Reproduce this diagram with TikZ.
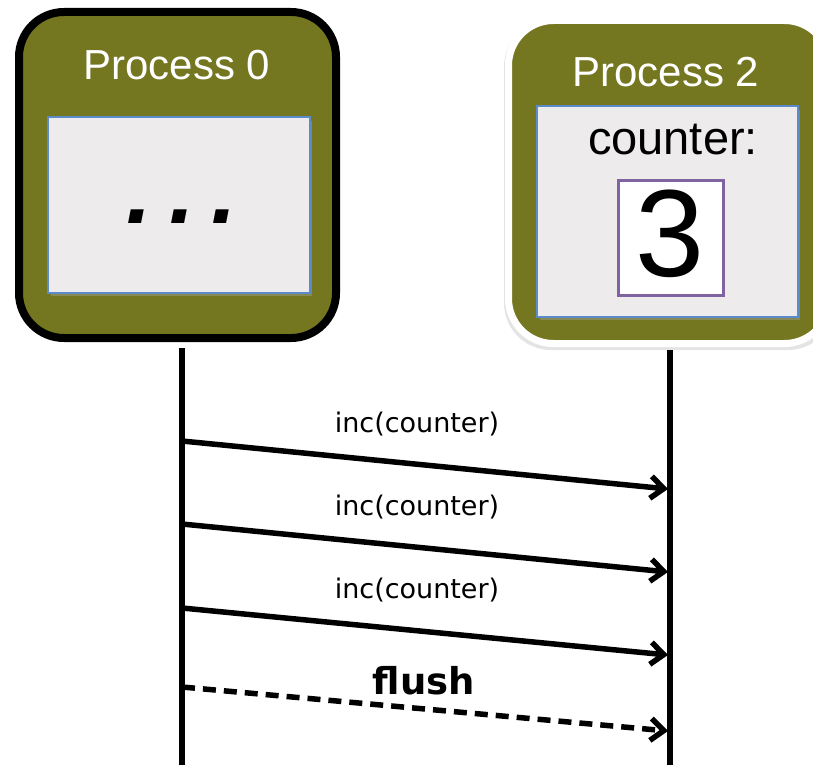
\documentclass[tikz,border=0pt]{standalone}
\usepackage{fontspec}
\setmainfont{Liberation Sans}
\newfontfamily\dejavu{DejaVu Sans}
\usetikzlibrary{arrows.meta}
\definecolor{olive}{RGB}{116,118,32}
\definecolor{innergray}{RGB}{237,235,236}
\definecolor{innerblue}{RGB}{91,139,201}
\definecolor{boxpurple}{RGB}{128,100,162}
\tikzset{
  procbox/.style={rectangle, rounded corners=45pt, fill=olive, inner sep=0pt},
  innerbox/.style={rectangle, fill=innergray, draw=innerblue, line width=1.3pt, inner sep=0pt},
  title/.style={text=white, font=\fontsize{42}{42}\selectfont, inner sep=0pt},
  lifeline/.style={line width=5.5pt},
  msg/.style={line width=5.5pt, -{Straight Barb[length=13pt,width=22pt]}},
  lbl/.style={font=\dejavu\fontsize{27}{27}\selectfont, inner sep=0pt},
}
\begin{document}
\begin{tikzpicture}[x=1pt,y=-1pt]
\useasboundingbox (0,0) rectangle (813,765);
% Process 0
\node[procbox, draw=black, line width=8pt, minimum width=317pt, minimum height=326pt] (p0) at (177.5,175) {};
\node[title] (t0) at (177,65) {Process 0};
\fill[black!35, opacity=0.4] (51,121) rectangle (312,296);
\node[innerbox, minimum width=262pt, minimum height=176pt] (i0) at (179,205) {};
\node[font=\fontsize{92}{92}\selectfont\bfseries\itshape, inner sep=0pt] (dots) at (182,216.5) {.\hspace{17pt}.\hspace{17pt}.};
% Process 2
\fill[black!30, opacity=0.35, rounded corners=47pt] (504,20) rectangle (835,350);
\node[procbox, draw=white, line width=7pt, minimum width=321pt, minimum height=323pt] (p2) at (669,182) {};
\node[title] (t2) at (666,72) {Process 2};
\fill[black!35, opacity=0.4] (540,110) rectangle (800,320);
\node[innerbox, minimum width=261pt, minimum height=211pt] (i2) at (667.5,211.5) {};
\node[font=\fontsize{47}{47}\selectfont, inner sep=0pt] (ctr) at (673,140) {counter:};
\node[rectangle, fill=white, draw=boxpurple, line width=3pt, minimum width=105pt, minimum height=115pt, inner sep=0pt] (val) at (670.5,237.5) {};
\node[font=\fontsize{124}{124}\selectfont, inner sep=0pt] (three) at (670,234) {3};
% lifelines
\coordinate (l0t) at (182,348);
\coordinate (l0b) at (182,765);
\coordinate (l2t) at (670,350);
\coordinate (l2b) at (670,765);
\draw[lifeline] (l0t) -- (l0b);
\draw[lifeline] (l2t) -- (l2b);
% messages
\coordinate (a1s) at (182,441); \coordinate (a1e) at (668,489);
\coordinate (a2s) at (182,524); \coordinate (a2e) at (668,572);
\coordinate (a3s) at (182,608); \coordinate (a3e) at (668,655);
\coordinate (a4s) at (182,687); \coordinate (a4e) at (668,731);
\draw[msg] (a1s) -- (a1e);
\draw[msg] (a2s) -- (a2e);
\draw[msg] (a3s) -- (a3e);
\draw[msg, dash pattern=on 13pt off 8pt] (a4s) -- (a4e);
\node[lbl] (m1) at (417,424) {inc(counter)};
\node[lbl] (m2) at (417,507) {inc(counter)};
\node[lbl] (m3) at (417,590) {inc(counter)};
\node[font=\dejavu\bfseries\fontsize{37}{37}\selectfont, inner sep=0pt] (m4) at (424,681) {flush};
\end{tikzpicture}
\end{document}
